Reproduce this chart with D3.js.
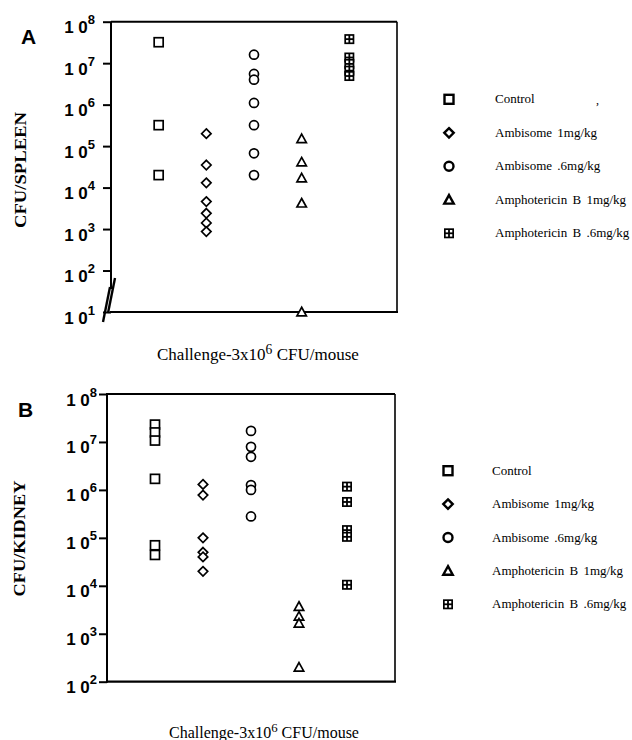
<!DOCTYPE html>
<html>
<head>
<meta charset="utf-8">
<script src="https://cdn.jsdelivr.net/npm/d3@7"></script>
<style>
  html, body { margin: 0; padding: 0; background: #fff; }
  svg { display: block; }
</style>
</head>
<body>
<svg id="chart" width="632" height="740"></svg>
<script>
// ---------------- DATA ----------------
const categories = ["Control", "Ambisome 1mg/kg", "Ambisome .6mg/kg", "Amphotericin B 1mg/kg", "Amphotericin B .6mg/kg"];
const shapes = ["square", "diamond", "circle", "triangle", "plussquare"];
const tickExponentsA = [1, 2, 3, 4, 5, 6, 7, 8];
const tickExponentsB = [2, 3, 4, 5, 6, 7, 8];

// Panel A: CFU/SPLEEN
const spleenControl   = [3.2e7, 3.2e5, 2.0e4];
const spleenAmbi1     = [2.0e5, 3.5e4, 1.3e4, 4.6e3, 2.4e3, 1.4e3, 870];
const spleenAmbi06    = [1.6e7, 5.5e6, 4.0e6, 1.1e6, 3.2e5, 6.7e4, 2.0e4];
const spleenAmphoB1   = [1.5e5, 4.1e4, 1.7e4, 4.2e3, 10];
const spleenAmphoB06  = [3.8e7, 1.37e7, 9.6e6, 6.6e6, 4.9e6];

// Panel B: CFU/KIDNEY
const kidneyControl   = [2.3e7, 1.58e7, 1.07e7, 1.7e6, 7.0e4, 4.4e4];
const kidneyAmbi1     = [1.3e6, 7.8e5, 1.0e5, 5.0e4, 4.0e4, 2.0e4];
const kidneyAmbi06    = [1.7e7, 7.9e6, 4.9e6, 1.26e6, 1.0e6, 2.8e5];
const kidneyAmphoB1   = [3.7e3, 2.3e3, 1.65e3, 200];
const kidneyAmphoB06  = [1.17e6, 5.6e5, 1.45e5, 1.05e5, 1.05e4];

const xAxisLabel = ["Challenge-3x10", "6", " CFU/mouse"];

// ---------------- DRAWING ----------------
const svg = d3.select("#chart");
const SERIF = "'Liberation Serif', 'DejaVu Serif', 'Times New Roman', serif";
const SANS = "'Liberation Sans', Arial, sans-serif";

function drawMarker(g, shape, cx, cy, s, sw) {
  const h = s / 2;
  if (shape === "square") {
    g.append("rect").attr("x", cx - h).attr("y", cy - h).attr("width", s).attr("height", s)
      .attr("fill", "#fff").attr("stroke", "#000").attr("stroke-width", sw);
  } else if (shape === "diamond") {
    const d = h * 1.05;
    g.append("path").attr("d", `M${cx},${cy - d}L${cx + d},${cy}L${cx},${cy + d}L${cx - d},${cy}Z`)
      .attr("fill", "#fff").attr("stroke", "#000").attr("stroke-width", sw);
  } else if (shape === "circle") {
    g.append("circle").attr("cx", cx).attr("cy", cy).attr("r", h)
      .attr("fill", "#fff").attr("stroke", "#000").attr("stroke-width", sw);
  } else if (shape === "triangle") {
    const t = h * 1.05;
    g.append("path").attr("d", `M${cx},${cy - t}L${cx + t},${cy + t * 0.8}L${cx - t},${cy + t * 0.8}Z`)
      .attr("fill", "#fff").attr("stroke", "#000").attr("stroke-width", sw).attr("stroke-linejoin", "miter");
  } else if (shape === "plussquare") {
    const S = s + 1, H = S / 2;
    g.append("rect").attr("x", cx - H).attr("y", cy - H).attr("width", S).attr("height", S).attr("fill", "#000");
    const hole = S * 0.24, gap = S * 0.09;
    [[-1, -1], [1, -1], [-1, 1], [1, 1]].forEach(([sx, sy]) => {
      g.append("rect")
        .attr("x", sx < 0 ? cx - gap - hole : cx + gap)
        .attr("y", sy < 0 ? cy - gap - hole : cy + gap)
        .attr("width", hole).attr("height", hole).attr("fill", "#fff");
    });
  }
}

function drawPanel(cfg) {
  const g = svg.append("g");
  const y = d3.scaleLog().domain(cfg.domain).range([cfg.bottom, cfg.top]);
  const x = d3.scalePoint().domain(categories).range([cfg.left, cfg.right]).padding(1);

  // axis ticks
  const axis = d3.axisLeft(y)
    .tickValues(cfg.ticks.map(e => Math.pow(10, e)))
    .tickSize(8)
    .tickFormat("");
  const ag = g.append("g").attr("transform", `translate(${cfg.left},0)`).call(axis);
  ag.select(".domain").remove();
  ag.selectAll(".tick line").attr("stroke", "#000").attr("stroke-width", 2);

  ag.selectAll(".tick").each(function (d) {
    const t = d3.select(this).append("text")
      .attr("x", -cfg.labelGap).attr("y", 11)
      .attr("text-anchor", "end")
      .attr("fill", "#000")
      .style("font-family", SANS)
      .style("font-weight", "bold")
      .style("font-size", "17px");
    t.append("tspan").text("1 0");
    t.append("tspan").attr("dy", -9).style("font-size", "13px").text(String(Math.round(Math.log10(d))));
  });

  // frame
  const fr = g.append("g").attr("stroke", "#000").attr("fill", "none");
  fr.append("line").attr("x1", cfg.left).attr("x2", cfg.right).attr("y1", cfg.top).attr("y2", cfg.top).attr("stroke-width", 2);
  fr.append("line").attr("x1", cfg.right).attr("x2", cfg.right).attr("y1", cfg.top).attr("y2", cfg.bottom).attr("stroke-width", 1.6);
  fr.append("line").attr("x1", cfg.left - 1).attr("x2", cfg.right + 1).attr("y1", cfg.bottom).attr("y2", cfg.bottom).attr("stroke-width", 2.2);
  if (cfg.brk) {
    fr.append("line").attr("x1", cfg.left).attr("x2", cfg.left).attr("y1", cfg.top).attr("y2", cfg.brk).attr("stroke-width", 2);
    fr.append("line").attr("x1", cfg.left - 8).attr("y1", cfg.bottom + 10).attr("x2", cfg.left - 1).attr("y2", cfg.brk - 2).attr("stroke-width", 2.4);
    fr.append("line").attr("x1", cfg.left - 3).attr("y1", cfg.bottom + 1).attr("x2", cfg.left + 4).attr("y2", cfg.brk - 11).attr("stroke-width", 2.4);
  } else {
    fr.append("line").attr("x1", cfg.left).attr("x2", cfg.left).attr("y1", cfg.top - 1).attr("y2", cfg.bottom + 1).attr("stroke-width", 2);
  }

  // points
  const mg = g.append("g");
  cfg.series.forEach((vals, i) => {
    vals.forEach(v => drawMarker(mg, shapes[i], x(categories[i]), y(v), 9, 1.7));
  });

  // y label
  g.append("text")
    .attr("transform", `translate(${cfg.ylabX},${cfg.ylabY}) rotate(-90)`)
    .attr("text-anchor", "middle")
    .attr("textLength", 116).attr("lengthAdjust", "spacingAndGlyphs")
    .style("font-family", SERIF)
    .style("font-weight", "bold").style("font-size", "17px")
    .text(cfg.ylabel);

  // panel letter
  g.append("text").attr("x", cfg.letterX).attr("y", cfg.letterY)
    .style("font-family", SANS)
    .style("font-weight", "bold").style("font-size", "21px")
    .text(cfg.letter);

  // x label
  const xl = g.append("text").attr("x", cfg.xlabX).attr("y", cfg.xlabY)
    .style("font-family", SERIF)
    .style("font-size", cfg.xlabSize + "px");
  xl.append("tspan").text(xAxisLabel[0]);
  xl.append("tspan").attr("dy", -6).style("font-size", (cfg.xlabSize * 0.8) + "px").text(xAxisLabel[1]);
  xl.append("tspan").attr("dy", 6).text(xAxisLabel[2]);

  // legend
  const lg = g.append("g");
  categories.forEach((c, i) => {
    const ly = cfg.legY + i * cfg.legStep;
    drawMarker(lg, shapes[i], cfg.legX, ly, 9, 2.4);
    lg.append("text").attr("x", cfg.legTextX).attr("y", ly + 4)
      .style("font-family", SERIF)
      .style("font-size", "13px")
      .style("word-spacing", "2px")
      .text(c);
  });
}

drawPanel({
  domain: [10, 1e8], ticks: tickExponentsA,
  left: 111, right: 397, top: 21.7, bottom: 312, brk: 289,
  labelGap: 16,
  series: [spleenControl, spleenAmbi1, spleenAmbi06, spleenAmphoB1, spleenAmphoB06],
  ylabel: "CFU/SPLEEN", ylabX: 25.5, ylabY: 170,
  letter: "A", letterX: 21, letterY: 44,
  xlabX: 157, xlabY: 360, xlabSize: 17,
  legX: 449, legY: 99.3, legStep: 33.5, legTextX: 495
});

drawPanel({
  domain: [100, 1e8], ticks: tickExponentsB,
  left: 107, right: 395, top: 394, bottom: 681.7, brk: null,
  labelGap: 10,
  series: [kidneyControl, kidneyAmbi1, kidneyAmbi06, kidneyAmphoB1, kidneyAmphoB06],
  ylabel: "CFU/KIDNEY", ylabX: 24.5, ylabY: 538.5,
  letter: "B", letterX: 18, letterY: 417,
  xlabX: 169, xlabY: 738, xlabSize: 16,
  legX: 448, legY: 470.7, legStep: 33.4, legTextX: 492
});

// stray mark in the original scan near the first legend
svg.append("text").attr("x", 596).attr("y", 104)
  .style("font-family", SERIF).style("font-size", "12px").text(",");
</script>
</body>
</html>
